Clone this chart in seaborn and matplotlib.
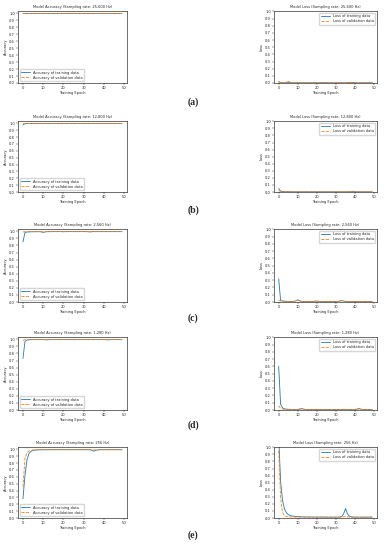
import matplotlib
matplotlib.use("Agg")
import matplotlib.pyplot as plt
import pandas as pd
import seaborn as sns

sns.set_theme(style="ticks")
plt.rcParams["font.family"] = ["DejaVu Sans"]

# ── Data ─────────────────────────────────────────────────────────────────────
epochs = list(range(50))
rates = ["25,600", "12,800", "2,560", "1,280", "256"]
panel_labels = ["(a)", "(b)", "(c)", "(d)", "(e)"]

a_acc_train = [0.996, 0.997, 0.997, 0.997, 0.997, 0.996, 0.997, 0.997, 0.997, 0.997,
               0.997, 0.997, 0.997, 0.997, 0.997, 0.997, 0.997, 0.997, 0.997, 0.997,
               0.997, 0.997, 0.997, 0.997, 0.996, 0.997, 0.997, 0.997, 0.997, 0.997,
               0.997, 0.997, 0.997, 0.997, 0.997, 0.997, 0.997, 0.997, 0.996, 0.997,
               0.997, 0.997, 0.997, 0.997, 0.997, 0.997, 0.997, 0.997, 0.997, 0.997]
a_acc_val = [0.998, 0.998, 0.998, 0.998, 0.998, 0.997, 0.998, 0.998, 0.998, 0.998,
             0.998, 0.998, 0.998, 0.998, 0.998, 0.998, 0.998, 0.998, 0.998, 0.998,
             0.998, 0.998, 0.998, 0.998, 0.998, 0.998, 0.998, 0.998, 0.998, 0.998,
             0.998, 0.998, 0.998, 0.998, 0.998, 0.998, 0.998, 0.998, 0.998, 0.998,
             0.998, 0.998, 0.998, 0.998, 0.998, 0.998, 0.998, 0.998, 0.998, 0.998]
a_loss_train = [0.020, 0.008, 0.005, 0.004, 0.004, 0.005, 0.004, 0.003, 0.003, 0.003,
                0.003, 0.003, 0.003, 0.003, 0.003, 0.003, 0.003, 0.003, 0.003, 0.003,
                0.003, 0.003, 0.004, 0.006, 0.007, 0.004, 0.003, 0.003, 0.003, 0.003,
                0.003, 0.003, 0.003, 0.003, 0.003, 0.003, 0.004, 0.008, 0.010, 0.005,
                0.003, 0.003, 0.003, 0.003, 0.003, 0.003, 0.003, 0.003, 0.003, 0.003]
a_loss_val = [0.010, 0.006, 0.004, 0.006, 0.015, 0.025, 0.012, 0.005, 0.004, 0.003,
              0.003, 0.003, 0.003, 0.003, 0.003, 0.003, 0.003, 0.003, 0.003, 0.003,
              0.003, 0.003, 0.003, 0.004, 0.005, 0.003, 0.003, 0.003, 0.003, 0.003,
              0.003, 0.003, 0.003, 0.003, 0.003, 0.003, 0.004, 0.007, 0.009, 0.004,
              0.003, 0.003, 0.003, 0.003, 0.003, 0.003, 0.003, 0.003, 0.003, 0.003]

b_acc_train = [0.975, 0.995, 0.997, 0.997, 0.997, 0.997, 0.997, 0.997, 0.997, 0.997,
               0.997, 0.997, 0.997, 0.997, 0.997, 0.997, 0.997, 0.997, 0.997, 0.997,
               0.997, 0.997, 0.997, 0.997, 0.997, 0.997, 0.997, 0.997, 0.997, 0.997,
               0.997, 0.997, 0.997, 0.997, 0.997, 0.997, 0.997, 0.997, 0.997, 0.996,
               0.997, 0.997, 0.997, 0.997, 0.997, 0.997, 0.997, 0.997, 0.997, 0.997]
b_acc_val = [0.996, 0.998, 0.998, 0.998, 0.998, 0.998, 0.998, 0.998, 0.998, 0.998,
             0.998, 0.998, 0.998, 0.998, 0.998, 0.998, 0.998, 0.998, 0.998, 0.998,
             0.998, 0.998, 0.998, 0.998, 0.998, 0.998, 0.998, 0.998, 0.998, 0.998,
             0.998, 0.998, 0.998, 0.998, 0.998, 0.998, 0.998, 0.998, 0.998, 0.998,
             0.998, 0.998, 0.998, 0.998, 0.998, 0.998, 0.998, 0.998, 0.998, 0.998]
b_loss_train = [0.050, 0.012, 0.007, 0.005, 0.004, 0.004, 0.004, 0.003, 0.003, 0.003,
                0.003, 0.003, 0.003, 0.003, 0.003, 0.003, 0.003, 0.003, 0.003, 0.003,
                0.003, 0.003, 0.003, 0.003, 0.003, 0.003, 0.003, 0.003, 0.003, 0.003,
                0.003, 0.003, 0.003, 0.003, 0.003, 0.003, 0.003, 0.004, 0.008, 0.010,
                0.005, 0.003, 0.003, 0.003, 0.003, 0.003, 0.003, 0.003, 0.003, 0.003]
b_loss_val = [0.020, 0.007, 0.005, 0.004, 0.004, 0.003, 0.003, 0.003, 0.003, 0.003,
              0.003, 0.003, 0.003, 0.003, 0.003, 0.003, 0.003, 0.003, 0.003, 0.003,
              0.003, 0.003, 0.003, 0.003, 0.003, 0.003, 0.003, 0.003, 0.003, 0.003,
              0.003, 0.003, 0.003, 0.003, 0.003, 0.003, 0.003, 0.003, 0.005, 0.006,
              0.003, 0.003, 0.003, 0.003, 0.003, 0.003, 0.003, 0.003, 0.003, 0.003]

c_acc_train = [0.850, 0.985, 0.990, 0.992, 0.993, 0.994, 0.994, 0.995, 0.995, 0.993,
               0.985, 0.992, 0.995, 0.995, 0.996, 0.996, 0.996, 0.996, 0.996, 0.996,
               0.994, 0.996, 0.996, 0.996, 0.996, 0.996, 0.996, 0.996, 0.996, 0.996,
               0.996, 0.996, 0.995, 0.992, 0.995, 0.996, 0.996, 0.996, 0.996, 0.996,
               0.996, 0.996, 0.996, 0.996, 0.996, 0.996, 0.996, 0.996, 0.996, 0.996]
c_acc_val = [0.990, 0.995, 0.995, 0.996, 0.996, 0.996, 0.996, 0.996, 0.996, 0.995,
             0.992, 0.995, 0.996, 0.996, 0.996, 0.996, 0.996, 0.996, 0.996, 0.996,
             0.995, 0.996, 0.996, 0.996, 0.996, 0.996, 0.996, 0.996, 0.996, 0.996,
             0.996, 0.996, 0.996, 0.994, 0.996, 0.996, 0.996, 0.996, 0.996, 0.996,
             0.996, 0.996, 0.996, 0.996, 0.996, 0.996, 0.996, 0.996, 0.996, 0.996]
c_loss_train = [0.320, 0.022, 0.014, 0.011, 0.010, 0.009, 0.008, 0.008, 0.009, 0.015,
                0.030, 0.016, 0.009, 0.008, 0.007, 0.007, 0.007, 0.007, 0.008, 0.010,
                0.014, 0.009, 0.007, 0.006, 0.006, 0.006, 0.006, 0.006, 0.006, 0.006,
                0.007, 0.009, 0.014, 0.020, 0.013, 0.008, 0.006, 0.006, 0.006, 0.006,
                0.006, 0.006, 0.006, 0.006, 0.006, 0.006, 0.006, 0.006, 0.006, 0.006]
c_loss_val = [0.030, 0.012, 0.010, 0.009, 0.008, 0.008, 0.008, 0.008, 0.010, 0.016,
              0.025, 0.014, 0.009, 0.008, 0.007, 0.007, 0.007, 0.007, 0.008, 0.010,
              0.012, 0.008, 0.007, 0.006, 0.006, 0.006, 0.006, 0.006, 0.006, 0.006,
              0.007, 0.008, 0.012, 0.018, 0.012, 0.008, 0.006, 0.006, 0.006, 0.006,
              0.006, 0.006, 0.006, 0.006, 0.006, 0.006, 0.006, 0.006, 0.006, 0.006]

d_acc_train = [0.730, 0.970, 0.990, 0.994, 0.995, 0.995, 0.996, 0.996, 0.996, 0.996,
               0.996, 0.995, 0.993, 0.995, 0.996, 0.996, 0.996, 0.996, 0.996, 0.996,
               0.996, 0.996, 0.996, 0.996, 0.996, 0.996, 0.996, 0.996, 0.996, 0.996,
               0.996, 0.996, 0.996, 0.996, 0.996, 0.996, 0.996, 0.996, 0.996, 0.996,
               0.996, 0.995, 0.993, 0.995, 0.996, 0.996, 0.996, 0.996, 0.996, 0.996]
d_acc_val = [0.985, 0.995, 0.996, 0.997, 0.997, 0.997, 0.997, 0.997, 0.997, 0.997,
             0.997, 0.997, 0.995, 0.997, 0.997, 0.997, 0.997, 0.997, 0.997, 0.997,
             0.997, 0.997, 0.997, 0.997, 0.997, 0.997, 0.997, 0.997, 0.997, 0.997,
             0.997, 0.997, 0.997, 0.997, 0.997, 0.997, 0.997, 0.997, 0.997, 0.997,
             0.997, 0.997, 0.995, 0.997, 0.997, 0.997, 0.997, 0.997, 0.997, 0.997]
d_loss_train = [0.600, 0.080, 0.030, 0.016, 0.012, 0.010, 0.009, 0.008, 0.008, 0.008,
                0.009, 0.013, 0.020, 0.012, 0.008, 0.007, 0.007, 0.007, 0.007, 0.007,
                0.007, 0.007, 0.007, 0.007, 0.007, 0.007, 0.007, 0.007, 0.007, 0.007,
                0.007, 0.007, 0.007, 0.008, 0.010, 0.008, 0.007, 0.007, 0.007, 0.007,
                0.008, 0.013, 0.020, 0.012, 0.007, 0.007, 0.007, 0.007, 0.007, 0.007]
d_loss_val = [0.060, 0.020, 0.012, 0.009, 0.008, 0.007, 0.007, 0.007, 0.007, 0.007,
              0.008, 0.010, 0.015, 0.010, 0.007, 0.006, 0.006, 0.006, 0.006, 0.006,
              0.006, 0.006, 0.006, 0.006, 0.006, 0.006, 0.006, 0.006, 0.006, 0.006,
              0.006, 0.006, 0.006, 0.007, 0.008, 0.007, 0.006, 0.006, 0.006, 0.006,
              0.007, 0.010, 0.015, 0.010, 0.006, 0.006, 0.006, 0.006, 0.006, 0.006]

e_acc_train = [0.280, 0.620, 0.850, 0.940, 0.970, 0.983, 0.988, 0.990, 0.991, 0.992,
               0.993, 0.993, 0.994, 0.994, 0.994, 0.994, 0.994, 0.994, 0.994, 0.994,
               0.994, 0.994, 0.994, 0.994, 0.994, 0.994, 0.994, 0.994, 0.994, 0.994,
               0.994, 0.994, 0.994, 0.993, 0.988, 0.972, 0.985, 0.991, 0.993, 0.994,
               0.994, 0.994, 0.994, 0.994, 0.994, 0.994, 0.994, 0.994, 0.994, 0.994]
e_acc_val = [0.450, 0.870, 0.950, 0.975, 0.985, 0.990, 0.992, 0.993, 0.993, 0.993,
             0.993, 0.993, 0.993, 0.993, 0.993, 0.993, 0.993, 0.993, 0.993, 0.993,
             0.993, 0.993, 0.993, 0.993, 0.993, 0.993, 0.993, 0.993, 0.993, 0.993,
             0.993, 0.993, 0.993, 0.993, 0.992, 0.990, 0.992, 0.993, 0.993, 0.993,
             0.993, 0.993, 0.993, 0.993, 0.993, 0.993, 0.993, 0.993, 0.993, 0.993]
e_loss_train = [1.150, 0.520, 0.250, 0.130, 0.075, 0.048, 0.035, 0.028, 0.024, 0.021,
                0.019, 0.018, 0.017, 0.016, 0.015, 0.015, 0.014, 0.014, 0.014, 0.013,
                0.013, 0.013, 0.013, 0.013, 0.012, 0.012, 0.012, 0.012, 0.012, 0.012,
                0.012, 0.012, 0.013, 0.020, 0.060, 0.135, 0.060, 0.025, 0.016, 0.013,
                0.012, 0.012, 0.012, 0.012, 0.012, 0.012, 0.012, 0.012, 0.012, 0.012]
e_loss_val = [0.950, 0.280, 0.080, 0.035, 0.022, 0.017, 0.015, 0.014, 0.013, 0.013,
              0.012, 0.012, 0.012, 0.012, 0.012, 0.012, 0.012, 0.012, 0.012, 0.012,
              0.012, 0.012, 0.012, 0.012, 0.012, 0.012, 0.012, 0.012, 0.012, 0.012,
              0.012, 0.012, 0.012, 0.013, 0.016, 0.022, 0.016, 0.013, 0.012, 0.012,
              0.012, 0.012, 0.012, 0.012, 0.012, 0.012, 0.012, 0.012, 0.012, 0.012]

acc_train = [a_acc_train, b_acc_train, c_acc_train, d_acc_train, e_acc_train]
acc_val = [a_acc_val, b_acc_val, c_acc_val, d_acc_val, e_acc_val]
loss_train = [a_loss_train, b_loss_train, c_loss_train, d_loss_train, e_loss_train]
loss_val = [a_loss_val, b_loss_val, c_loss_val, d_loss_val, e_loss_val]

# ── Layout (pixel boxes for each row: top, bottom) ────────────────────────────
W, H = 386, 550
rows_px = [(11, 83), (121, 192), (229, 302), (337, 410), (447, 518)]
label_y = [102, 210, 318, 425, 535]
left_x = (18, 127)
right_x = (274, 377)

BLUE = "#1f77b4"
ORANGE = "#ff7f0e"
FS = 2.6


def _box(xs, ys):
    return [xs[0] / W, 1 - ys[1] / H, (xs[1] - xs[0]) / W, (ys[1] - ys[0]) / H]


def _style(ax, ylabel, title, ytop):
    ax.set_xlim(-2.45, 51.45)
    ax.set_ylim(0, ytop)
    ax.set_xticks(range(0, 51, 10))
    ax.set_yticks([i / 10 for i in range(11)])
    ax.set_yticklabels([f"{i / 10:.1f}" for i in range(11)])
    ax.tick_params(labelsize=FS, length=1.2, width=0.3, pad=1)
    ax.set_xlabel("Training Epoch", fontsize=FS, labelpad=1)
    ax.set_ylabel(ylabel, fontsize=FS, labelpad=1)
    ax.set_title(title, fontsize=FS, pad=2)
    for s in ax.spines.values():
        s.set_linewidth(0.4)
        s.set_color("black")


fig = plt.figure(figsize=(W / 100, H / 100), dpi=100)

for i in range(5):
    # accuracy panel
    ax = fig.add_axes(_box(left_x, rows_px[i]))
    df = pd.DataFrame({"epoch": epochs, "train": acc_train[i], "val": acc_val[i]})
    sns.lineplot(data=df, x="epoch", y="train", ax=ax, color=BLUE, lw=0.6,
                 label="Accuracy of training data")
    sns.lineplot(data=df, x="epoch", y="val", ax=ax, color=ORANGE, lw=0.6,
                 linestyle="--", label="Accuracy of validation data")
    _style(ax, "Accuracy", f"Model Accuracy (Sampling rate: {rates[i]} Hz)", 1.033)
    ax.legend(loc="lower left", fontsize=FS, frameon=True, framealpha=0.8,
              handlelength=2.5, borderpad=0.4, labelspacing=0.3)

    # loss panel
    ax = fig.add_axes(_box(right_x, rows_px[i]))
    df = pd.DataFrame({"epoch": epochs, "train": loss_train[i], "val": loss_val[i]})
    sns.lineplot(data=df, x="epoch", y="train", ax=ax, color=BLUE, lw=0.6,
                 label="Loss of training data")
    sns.lineplot(data=df, x="epoch", y="val", ax=ax, color=ORANGE, lw=0.6,
                 linestyle="--", label="Loss of validation data")
    _style(ax, "Loss", f"Model Loss (Sampling rate: {rates[i]} Hz)", 1.005)
    ax.legend(loc="upper right", fontsize=FS, frameon=True, framealpha=0.8,
              handlelength=2.5, borderpad=0.4, labelspacing=0.3)

    fig.text(0.5, 1 - label_y[i] / H, panel_labels[i], ha="center", va="center",
             fontsize=7, fontweight="bold", family=["Liberation Serif"])

fig.savefig("out.png", dpi=100, facecolor="white")
